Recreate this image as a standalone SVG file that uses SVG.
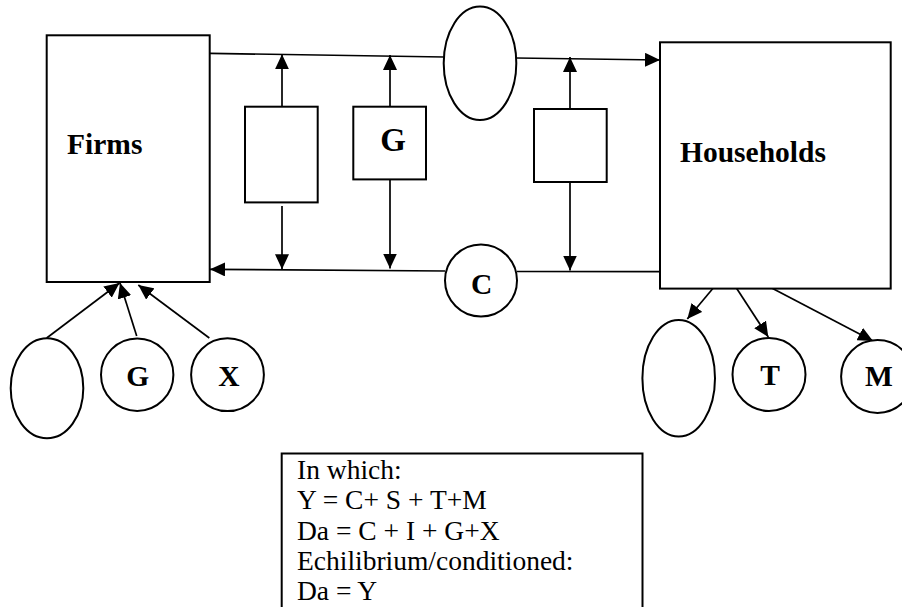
<svg xmlns="http://www.w3.org/2000/svg" width="902" height="607" viewBox="0 0 902 607">
<defs>
<marker id="ah" markerUnits="userSpaceOnUse" viewBox="0 0 15 14" refX="15" refY="7" markerWidth="15" markerHeight="14" orient="auto">
<path d="M0,0 L15,7 L0,14 z" fill="#000"/>
</marker>
<style>
.shape{fill:#fff;stroke:#000;stroke-width:2}
.ln{fill:none;stroke:#000;stroke-width:1.7}
.arr{fill:none;stroke:#000;stroke-width:1.7;marker-end:url(#ah)}
.lbl{font-family:"Liberation Serif","Times New Roman",serif;font-weight:bold;font-size:29.5px;fill:#000}
.note{font-family:"Liberation Serif","Times New Roman",serif;font-size:27.5px;fill:#000}
</style>
</defs>
<rect width="902" height="607" fill="#fff"/>
<g id="connectors">
<line class="ln" x1="210" y1="53.3" x2="444" y2="57"/>
<line class="arr" x1="516" y1="58" x2="660" y2="60"/>
<line class="ln" x1="660" y1="271.7" x2="517" y2="271.5"/>
<line class="arr" x1="445" y1="271" x2="210" y2="269.3"/>
<line class="arr" x1="282" y1="106.7" x2="282" y2="54.3"/>
<line class="arr" x1="282" y1="206" x2="282" y2="269.3"/>
<line class="arr" x1="390" y1="106.7" x2="390" y2="55"/>
<line class="arr" x1="390" y1="179.3" x2="390" y2="268.5"/>
<line class="arr" x1="570" y1="109" x2="570" y2="57"/>
<line class="arr" x1="570" y1="182" x2="570" y2="270.5"/>
<line class="arr" x1="46.7" y1="338" x2="119.5" y2="283"/>
<line class="arr" x1="136.7" y1="336" x2="120" y2="283"/>
<line class="arr" x1="209.3" y1="338" x2="138.3" y2="285"/>
<line class="arr" x1="714.3" y1="286.7" x2="687.3" y2="319"/>
<line class="arr" x1="733.3" y1="283.3" x2="768.3" y2="337"/>
<line class="arr" x1="769.3" y1="286.7" x2="873" y2="341"/>
</g>
<g id="firms">
<rect class="shape" x="46.7" y="35.3" width="163" height="246.7"/>
<text class="lbl" x="67" y="154.3">Firms</text>
</g>
<g id="households">
<rect class="shape" x="660" y="42.3" width="230.7" height="246.3"/>
<text class="lbl" x="680" y="161.7">Households</text>
</g>
<g id="box-left">
<rect class="shape" x="245" y="106.7" width="72.7" height="95.7"/>
</g>
<g id="box-g">
<rect class="shape" x="353.3" y="106.7" width="72.7" height="72.7"/>
<text class="lbl" x="393" y="150.7" text-anchor="middle" style="font-size:33px">G</text>
</g>
<g id="box-right">
<rect class="shape" x="534" y="109" width="72.7" height="73"/>
</g>
<g id="ellipse-top">
<ellipse class="shape" cx="480" cy="63.3" rx="36.3" ry="56.7"/>
</g>
<g id="circle-c">
<circle class="shape" cx="481" cy="280.5" r="36"/>
<text class="lbl" x="481.7" y="294" text-anchor="middle">C</text>
</g>
<g id="ellipse-bl">
<ellipse class="shape" cx="47" cy="388.3" rx="36.3" ry="50"/>
</g>
<g id="circle-g">
<circle class="shape" cx="137.2" cy="374.7" r="36.2"/>
<text class="lbl" x="137.8" y="385.7" text-anchor="middle">G</text>
</g>
<g id="circle-x">
<circle class="shape" cx="227.5" cy="374.7" r="36.4"/>
<text class="lbl" x="228.8" y="385.7" text-anchor="middle">X</text>
</g>
<g id="ellipse-br">
<ellipse class="shape" cx="678.7" cy="378.3" rx="36.3" ry="58.3"/>
</g>
<g id="circle-t">
<circle class="shape" cx="769" cy="374.5" r="36.5"/>
<text class="lbl" x="770" y="385" text-anchor="middle">T</text>
</g>
<g id="circle-m">
<circle class="shape" cx="877.5" cy="376.5" r="36.4"/>
<text class="lbl" x="879" y="386" text-anchor="middle">M</text>
</g>
<g id="note">
<rect class="shape" x="281.7" y="453.5" width="360.8" height="170"/>
<text class="note" x="297" y="478.5">In which:</text>
<text class="note" x="297" y="509">Y = C+ S + T+M</text>
<text class="note" x="297" y="539.5">Da = C + I + G+X</text>
<text class="note" x="297" y="570">Echilibrium/conditioned:</text>
<text class="note" x="297" y="600">Da = Y</text>
</g>
</svg>
